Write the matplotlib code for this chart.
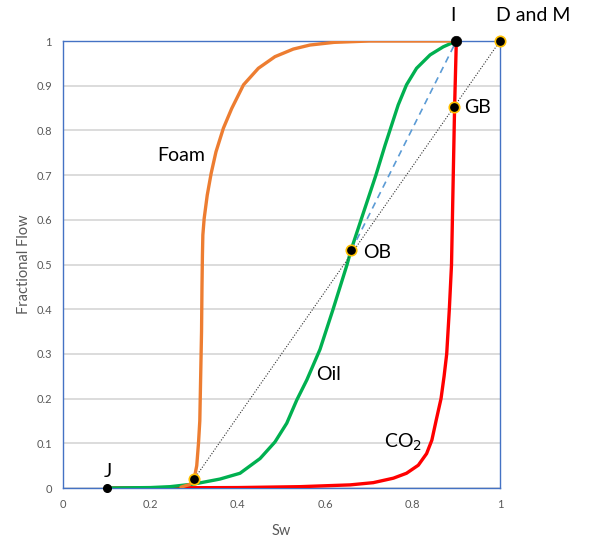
import matplotlib.pyplot as plt
import numpy as np

plt.rcParams['font.family'] = ['Lato', 'DejaVu Sans']

# curves (Sw, fractional flow)
foam_sw = [0.27, 0.29, 0.300, 0.306, 0.310, 0.313, 0.315, 0.317, 0.318, 0.319, 0.320,
           0.323, 0.330, 0.339, 0.350, 0.367, 0.386, 0.413, 0.447, 0.485, 0.527,
           0.565, 0.620, 0.700, 0.800, 0.900]
foam_f = [0.002, 0.008, 0.020, 0.05, 0.10, 0.15, 0.25, 0.35, 0.45, 0.52, 0.566,
          0.603, 0.655, 0.704, 0.752, 0.805, 0.849, 0.902, 0.939, 0.965, 0.982,
          0.991, 0.997, 1.0, 1.0, 1.0]

oil_sw = [0.10, 0.20, 0.245, 0.30, 0.359, 0.405, 0.451, 0.485, 0.512, 0.535, 0.558,
          0.588, 0.618, 0.650, 0.659, 0.682, 0.716, 0.737, 0.752, 0.767, 0.786,
          0.809, 0.840, 0.870, 0.900]
oil_f = [0.0, 0.001, 0.003, 0.009, 0.020, 0.033, 0.066, 0.103, 0.145, 0.197, 0.242,
         0.31, 0.40, 0.50, 0.532, 0.60, 0.70, 0.767, 0.812, 0.857, 0.902,
         0.939, 0.969, 0.987, 1.0]

co2_sw = [0.10, 0.40, 0.542, 0.657, 0.710, 0.756, 0.786, 0.813, 0.832, 0.844,
          0.854, 0.865, 0.872, 0.878, 0.884, 0.889, 0.893, 0.896, 0.900]
co2_f = [0.0, 0.001, 0.003, 0.007, 0.012, 0.022, 0.033, 0.051, 0.077, 0.107,
         0.152, 0.20, 0.25, 0.30, 0.40, 0.50, 0.70, 0.85, 1.0]

# named points
pts = {'J': (0.10, 0.0), 'A': (0.30, 0.02), 'OB': (0.66, 0.532),
       'GB': (0.895, 0.852), 'I': (0.90, 1.0), 'DM': (1.0, 1.0)}

fig = plt.figure(figsize=(5.9, 5.39), dpi=100)
ax = fig.add_axes([0.1068, 0.0946, 0.7407, 0.8293])

ax.set_xlim(0, 1)
ax.set_ylim(0, 1)
ax.set_xticks(np.arange(0, 1.01, 0.2))
ax.set_xticklabels(['0', '0.2', '0.4', '0.6', '0.8', '1'])
ax.set_yticks(np.arange(0, 1.01, 0.1))
ax.set_yticklabels(['0'] + ['%.1f' % v for v in np.arange(0.1, 0.95, 0.1)] + ['1'])
ax.tick_params(length=0, colors='#595959', labelsize=8, pad=8)
ax.yaxis.grid(True, color='#D9D9D9', lw=1.3)
ax.set_axisbelow(True)
for s in ax.spines.values():
    s.set_color('#4472C4')
    s.set_linewidth(1)

style = dict(lw=2.4, solid_capstyle='round', solid_joinstyle='round', zorder=3)
ax.plot(co2_sw, co2_f, color='#FF0000', **style)
ax.plot(oil_sw, oil_f, color='#00B050', **style)
ax.plot(foam_sw, foam_f, color='#ED7D31', **style)

a, dm, ob, i = pts['A'], pts['DM'], pts['OB'], pts['I']
ax.plot([a[0], dm[0]], [a[1], dm[1]], color='#333333', lw=0.8, ls=(0, (1, 1.5)), zorder=4)
ax.plot([ob[0], i[0]], [ob[1], i[1]], color='#5B9BD5', lw=1.2, ls=(0, (4, 3)), zorder=4)

for k in ['A', 'OB', 'GB', 'DM']:
    ax.plot(*pts[k], 'o', color='black', mec='#FFC000', mew=1.2, ms=7.5,
            zorder=6, clip_on=False)
ax.plot(*pts['I'], 'o', color='black', ms=7.5, mew=0.5, zorder=6, clip_on=False)
ax.plot(*pts['J'], 'o', color='black', ms=5.5, zorder=6, clip_on=False)

lab = dict(fontsize=14, color='black', va='center', clip_on=False)
ax.text(0.215, 0.743, 'Foam', ha='left', **lab)
ax.text(0.579, 0.253, 'Oil', ha='left', **lab)
ax.text(0.735, 0.103, 'CO$_2$', ha='left', **lab)
ax.text(0.686, 0.526, 'OB', ha='left', **lab)
ax.text(0.918, 0.852, 'GB', ha='left', **lab)
ax.text(0.893, 1.058, 'I', ha='center', **lab)
ax.text(0.991, 1.058, 'D and M', ha='left', **lab)
ax.text(0.103, 0.036, 'J', ha='center', **lab)

ax.set_xlabel('Sw', color='#595959', fontsize=10.5, labelpad=10)
ax.set_ylabel('Fractional Flow', color='#595959', fontsize=10.5, labelpad=4)

fig.savefig('out.png', dpi=100)
